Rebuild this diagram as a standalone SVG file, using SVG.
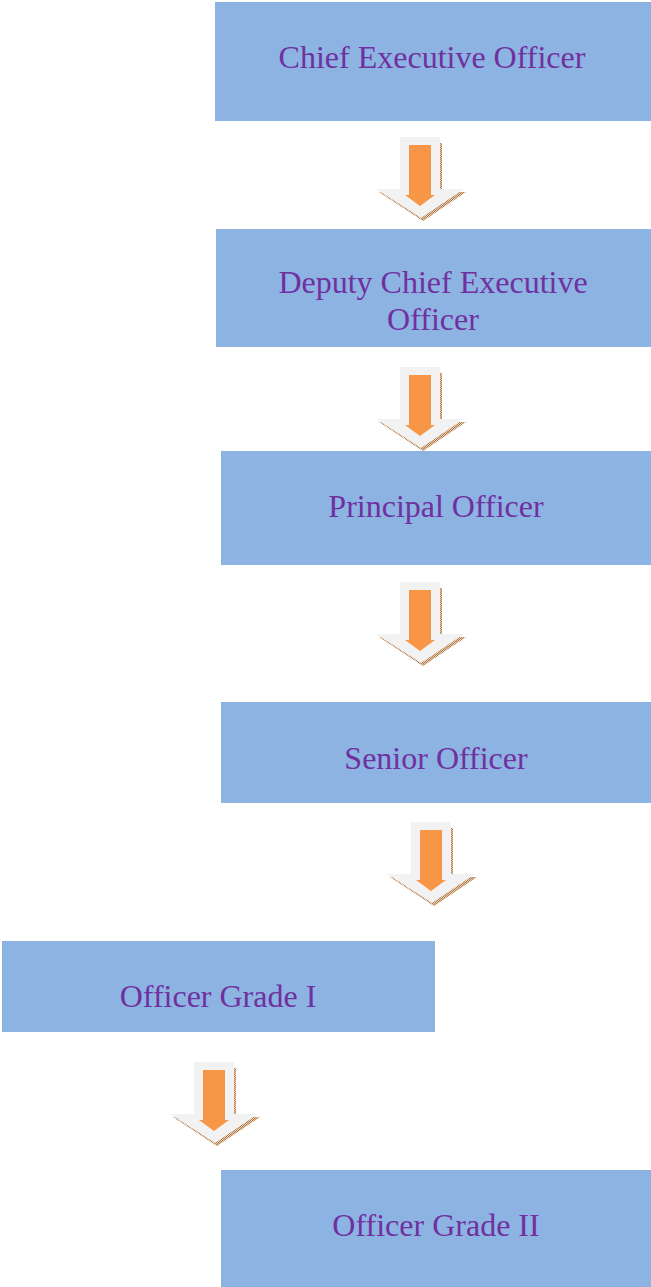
<svg xmlns="http://www.w3.org/2000/svg" width="651" height="1287" viewBox="0 0 651 1287">
  <defs>
    <!-- dithered brown texture used for the arrow shadows -->
    <pattern id="dither" width="2" height="2" patternUnits="userSpaceOnUse">
      <rect width="2" height="2" fill="#e9cfb3"/>
      <rect width="1" height="1" fill="#b07a4c"/>
      <rect x="1" y="1" width="1" height="1" fill="#b07a4c"/>
    </pattern>
    <!-- down arrow drawn with its top-centre at the origin -->
    <g id="downArrow">
      <path d="M-18,6 L22,6 L22,55 L46,55 L3,84 L-41,55 L-18,55 Z" fill="url(#dither)"/>
      <path d="M-20,0 L20,0 L20,52 L44,52 L1,81 L-44,52 L-20,52 Z" fill="#f2f2f2"/>
      <path d="M-11,8 L11,8 L11,58 L15,58 L0,69 L-15,58 L-11,58 Z" fill="#f79646"/>
    </g>
  </defs>
  <style>
    .box { fill: #8db3e2; }
    .label { font-family: "Liberation Serif", "Times New Roman", serif; font-size: 32px; fill: #7030a0; text-anchor: middle; }
  </style>

  <g id="connectors">
    <use href="#downArrow" x="420" y="137"/>
    <use href="#downArrow" x="420" y="367"/>
    <use href="#downArrow" x="420" y="582"/>
    <use href="#downArrow" x="431" y="822"/>
    <use href="#downArrow" x="214" y="1062"/>
  </g>

  <g id="ceo">
    <rect class="box" x="215" y="2" width="436" height="119"/>
    <text class="label" x="432" y="68">Chief Executive Officer</text>
  </g>

  <g id="deputy-ceo">
    <rect class="box" x="216" y="229" width="435" height="118"/>
    <text class="label" x="433" y="293">Deputy Chief Executive</text>
    <text class="label" x="433" y="330">Officer</text>
  </g>

  <g id="principal-officer">
    <rect class="box" x="221" y="451" width="430" height="114"/>
    <text class="label" x="436" y="517">Principal Officer</text>
  </g>

  <g id="senior-officer">
    <rect class="box" x="221" y="702" width="430" height="101"/>
    <text class="label" x="436" y="769">Senior Officer</text>
  </g>

  <g id="officer-grade-1">
    <rect class="box" x="2" y="941" width="433" height="91"/>
    <text class="label" x="218" y="1007">Officer Grade I</text>
  </g>

  <g id="officer-grade-2">
    <rect class="box" x="221" y="1170" width="430" height="117"/>
    <text class="label" x="436" y="1236">Officer Grade II</text>
  </g>
</svg>
